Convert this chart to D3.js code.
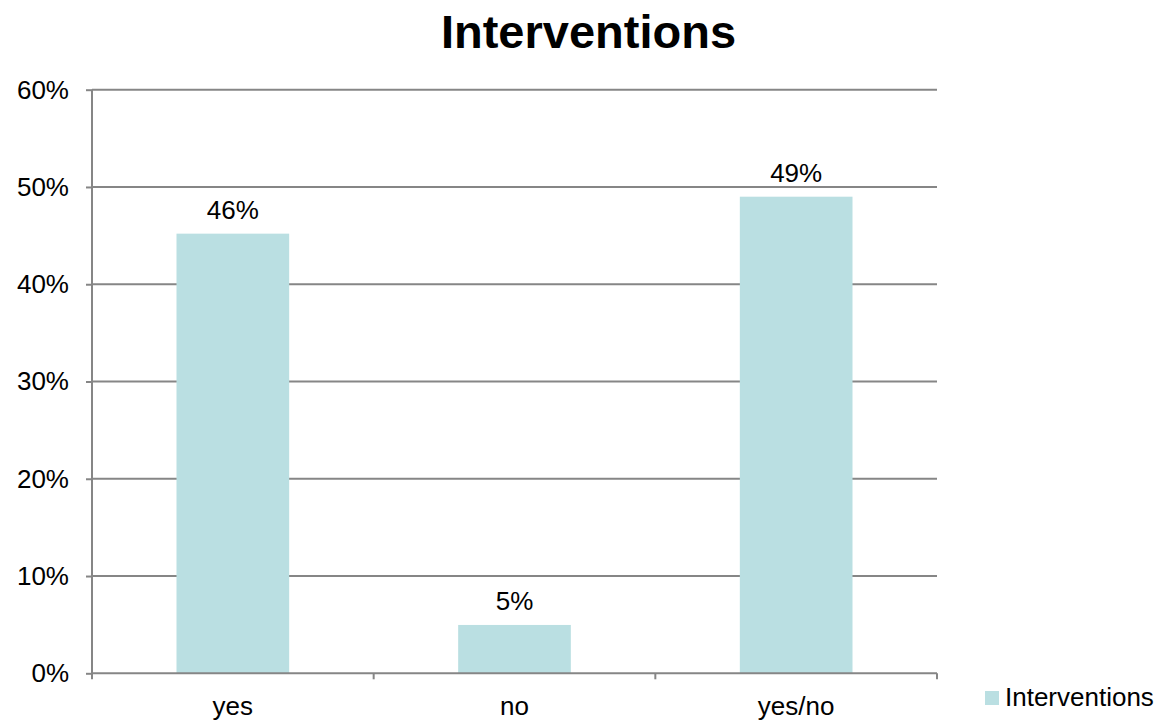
<!DOCTYPE html>
<html>
<head>
<meta charset="utf-8">
<script src="https://cdn.jsdelivr.net/npm/d3@7"></script>
<style>
  html, body { margin: 0; padding: 0; background: #fff; }
  svg { display: block; font-family: "Liberation Sans", Arial, sans-serif; }
</style>
</head>
<body>
<svg id="chart" width="1158" height="721"></svg>
<script>
const categories = ["yes", "no", "yes/no"];
const values = [0.452, 0.0497, 0.49];
const valueLabels = ["46%", "5%", "49%"];
const yTicks = [0, 0.1, 0.2, 0.3, 0.4, 0.5, 0.6];
const seriesName = "Interventions";
const title = "Interventions";

(function () {
const svg = d3.select("#chart");
const mLeft = 92, mRight = 937, mTop = 89.7, mBottom = 673.3;
const barColor = "#badfe2";
const gridColor = "#868686";
const fs = 26;

const x = d3.scaleBand().domain(categories).range([mLeft, mRight])
  .paddingInner(0.6).paddingOuter(0.3);
const y = d3.scaleLinear().domain([0, 0.6]).range([mBottom, mTop]);

// gridlines
svg.append("g").selectAll("line").data(yTicks.filter(d => d > 0)).join("line")
  .attr("x1", mLeft).attr("x2", mRight)
  .attr("y1", d => y(d)).attr("y2", d => y(d))
  .attr("stroke", gridColor).attr("stroke-width", 2);

// bars
svg.append("g").selectAll("rect").data(values).join("rect")
  .attr("x", (d, i) => x(categories[i]))
  .attr("width", x.bandwidth())
  .attr("y", d => y(d))
  .attr("height", d => y(0) - y(d))
  .attr("fill", barColor);

// y axis
const yAxis = d3.axisLeft(y).tickValues(yTicks).tickFormat(d3.format(".0%"))
  .tickSize(6).tickPadding(17);
const gy = svg.append("g").attr("transform", `translate(${mLeft},0)`).call(yAxis);
gy.select(".domain").attr("stroke", gridColor).attr("stroke-width", 2)
  .attr("d", `M0,${mTop}V${mBottom}`);
gy.selectAll(".tick line").attr("stroke", gridColor).attr("stroke-width", 2);
gy.selectAll(".tick text").attr("font-size", fs).attr("fill", "#000")
  .attr("font-family", "Liberation Sans, Arial, sans-serif");

// x axis: ticks at category boundaries
const boundaries = d3.range(categories.length + 1).map(i => mLeft + i * (mRight - mLeft) / categories.length);
const gx = svg.append("g");
gx.append("line").attr("x1", mLeft).attr("x2", mRight).attr("y1", mBottom).attr("y2", mBottom)
  .attr("stroke", gridColor).attr("stroke-width", 2);
gx.selectAll("line.tk").data(boundaries).join("line").attr("class", "tk")
  .attr("x1", d => d).attr("x2", d => d).attr("y1", mBottom).attr("y2", mBottom + 6)
  .attr("stroke", gridColor).attr("stroke-width", 2);
gx.selectAll("text").data(categories).join("text")
  .attr("x", d => x(d) + x.bandwidth() / 2)
  .attr("y", 715)
  .attr("text-anchor", "middle")
  .attr("font-size", fs).attr("fill", "#000")
  .text(d => d);

// data labels
svg.append("g").selectAll("text").data(values).join("text")
  .attr("x", (d, i) => x(categories[i]) + x.bandwidth() / 2)
  .attr("y", d => y(d) - 15)
  .attr("text-anchor", "middle")
  .attr("font-size", fs).attr("fill", "#000")
  .text((d, i) => valueLabels[i]);

// title
svg.append("text").attr("x", 588.5).attr("y", 48)
  .attr("text-anchor", "middle").attr("font-size", 47).attr("font-weight", "bold")
  .attr("fill", "#000").text(title);

// legend
const lg = svg.append("g");
lg.append("rect").attr("x", 985).attr("y", 691).attr("width", 14).attr("height", 14).attr("fill", barColor);
lg.append("text").attr("x", 1005).attr("y", 706).attr("font-size", fs).attr("fill", "#000").text(seriesName);
})();
</script>
</body>
</html>
